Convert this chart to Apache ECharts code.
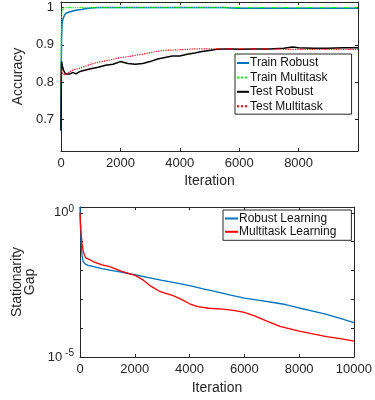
<!DOCTYPE html>
<html><head><meta charset="utf-8">
<script src="https://cdn.jsdelivr.net/npm/echarts@6/dist/echarts.min.js"></script>
<style>html,body{margin:0;padding:0;background:#fff}#c{width:375px;height:400px}</style>
</head><body><div id="c"></div>
<script>
// ---- Top chart: accuracy ----
const accX = [0,10,20,30,40,60,80,100,150,200,300,400,500,600,700,800,1000,1250,1500,1750,2000,2250,2500,2750,3000,3250,3500,3750,4000,4250,4500,4750,5000,5250,5500,5750,6000,6500,7000,7500,7800,8000,8500,9000,9500,10000];
const trainRobust = [0.67,0.85,0.92,0.945,0.96,0.968,0.972,0.976,0.984,0.987,0.989,0.991,0.993,0.994,0.995,0.997,0.999,1.0,1.0,1.0,1.0,1.0,1.0,1.0,1.0,1.0,1.0,1.0,1.0,1.0,1.0,1.0,1.0,1.0,1.0,0.999,0.998,0.998,0.998,0.998,0.998,0.998,0.998,0.998,0.998,0.998];
const trainMultitask = [0.78,0.93,0.975,0.99,0.995,0.998,0.999,1.0,1.0,1.0,1.0,1.0,1.0,1.0,1.0,1.0,1.0,1.0,1.0,1.0,1.0,1.0,1.0,1.0,1.0,1.0,1.0,1.0,1.0,1.0,1.0,1.0,1.0,1.0,1.0,1.0,1.0,1.0,1.0,1.0,1.0,1.0,1.0,1.0,1.0,1.0];
const testRobust = [0.67,0.80,0.855,0.852,0.845,0.84,0.833,0.828,0.822,0.818,0.822,0.826,0.822,0.827,0.83,0.832,0.836,0.84,0.845,0.848,0.855,0.85,0.848,0.85,0.855,0.862,0.866,0.87,0.87,0.875,0.878,0.882,0.885,0.888,0.889,0.889,0.888,0.889,0.889,0.891,0.894,0.892,0.891,0.891,0.892,0.892];
const testMultitask = [0.80,0.835,0.832,0.83,0.826,0.822,0.82,0.818,0.82,0.822,0.828,0.833,0.835,0.836,0.84,0.842,0.848,0.853,0.857,0.861,0.866,0.868,0.872,0.875,0.879,0.883,0.885,0.886,0.887,0.888,0.889,0.889,0.889,0.889,0.889,0.889,0.889,0.889,0.889,0.888,0.888,0.888,0.888,0.888,0.888,0.888];
const accTicks = [0.7,0.8,0.9,1];

// ---- Bottom chart: stationarity gap ----
const robX = [0,20,40,60,80,120,200,300,500,800,1083,1500,2000,2500,3000,3500,4000,4500,5000,5500,6000,6500,7000,7500,8000,8500,9000,9500,10000];
const robGap = [1.6,0.3,0.1,0.05,0.03,0.02,0.0165,0.015,0.0135,0.0115,0.0102,0.0087,0.0071,0.0056,0.0045,0.0037,0.003,0.0023,0.0018,0.0014,0.0011,0.00093,0.00079,0.00066,0.0005,0.00039,0.0003,0.00022,0.000155];
const mtX = [0,20,40,60,80,120,160,200,250,500,800,1083,1500,2000,2300,2600,2900,3400,3700,4000,4300,4700,5200,5600,6000,6400,6800,7300,8000,8500,9000,9500,10000];
const mtGap = [1.0,0.35,0.2,0.12,0.08,0.045,0.035,0.028,0.025,0.02,0.0155,0.0135,0.0095,0.0068,0.0047,0.0028,0.0019,0.00135,0.001,0.0007,0.00056,0.00049,0.00046,0.00041,0.00035,0.00026,0.00018,0.000115,0.000079,0.000063,0.000051,0.000043,0.0000355];

const topNames = ['Train Robust','Train Multitask','Test Robust','Test Multitask'];
const botNames = ['Robust Learning','Multitask Learning'];

const FONT = 'Liberation Sans, Arial, sans-serif';
const AX = '#262626';
const pair = (xs, ys) => xs.map((x, i) => [x, ys[i]]);
const plain = v => String(v);

const baseAxis = {
  axisLine: {show: true, onZero: false, lineStyle: {color: AX, width: 1}},
  axisTick: {show: true, inside: true, length: 3, lineStyle: {color: AX}},
  splitLine: {show: false},
  axisLabel: {color: AX, fontFamily: FONT, fontSize: 13}
};
function ax(extra) { return Object.assign({}, JSON.parse(JSON.stringify(baseAxis)), extra); }

const chart = echarts.init(document.getElementById('c'), null, {renderer: 'canvas'});
chart.setOption({
  animation: false,
  backgroundColor: '#fff',
  textStyle: {fontFamily: FONT},
  grid: [
    {left: 61, top: 2, width: 297, height: 149},
    {left: 80, top: 207, width: 278, height: 150}
  ],
  xAxis: [
    ax({type: 'value', gridIndex: 0, min: 0, max: 10000, interval: 2000, position: 'bottom',
        axisLabel: {color: AX, fontFamily: FONT, fontSize: 13, margin: 6, showMaxLabel: false, formatter: plain},
        name: 'Iteration', nameLocation: 'middle', nameGap: 23,
        nameTextStyle: {color: AX, fontFamily: FONT, fontSize: 14}}),
    ax({type: 'value', gridIndex: 0, min: 0, max: 10000, interval: 2000, position: 'top',
        axisLabel: {show: false}}),
    ax({type: 'value', gridIndex: 1, min: 0, max: 10000, interval: 2000, position: 'bottom',
        axisLabel: {color: AX, fontFamily: FONT, fontSize: 13, margin: 6, formatter: plain},
        name: 'Iteration', nameLocation: 'middle', nameGap: 24,
        nameTextStyle: {color: AX, fontFamily: FONT, fontSize: 14}}),
    ax({type: 'value', gridIndex: 1, min: 0, max: 10000, interval: 2000, position: 'top',
        axisLabel: {show: false}})
  ],
  yAxis: [
    ax({type: 'value', gridIndex: 0, min: 0.615, max: 1.015, position: 'left',
        axisTick: {show: true, inside: true, length: 3, lineStyle: {color: AX}, customValues: accTicks},
        axisLabel: {color: AX, fontFamily: FONT, fontSize: 13, margin: 7, customValues: accTicks,
          formatter: v => (Math.abs(v - 1) < 1e-9 ? '1' : v.toFixed(1))},
        name: 'Accuracy', nameLocation: 'middle', nameGap: 24, nameRotate: 90,
        nameTextStyle: {color: AX, fontFamily: FONT, fontSize: 14}}),
    ax({type: 'value', gridIndex: 0, min: 0.615, max: 1.015, position: 'right',
        axisTick: {show: true, inside: true, length: 3, lineStyle: {color: AX}, customValues: accTicks},
        axisLabel: {show: false}}),
    ax({type: 'log', logBase: 10, gridIndex: 1, min: 1e-5, max: Math.pow(10, 0.2), interval: 1, position: 'left',
        axisLabel: {color: AX, fontFamily: FONT, fontSize: 13, margin: 6,
          formatter: v => {
            const e = Math.round(Math.log10(v));
            if (Math.abs(Math.log10(v) - e) > 1e-6) return '';
            if (e === 0) return '{b|10}{s|0}';
            if (e === -5) return '{b|10}{s| -5}';
            return '';
          },
          rich: {b: {fontSize: 13, color: AX, fontFamily: FONT},
                 s: {fontSize: 10, color: AX, fontFamily: FONT, verticalAlign: 'top', padding: [0, 0, 8, 0]}}},
        name: 'Stationarity\nGap', nameLocation: 'middle', nameGap: 38, nameRotate: 90,
        nameTextStyle: {color: AX, fontFamily: FONT, fontSize: 14, lineHeight: 13}}),
    ax({type: 'log', logBase: 10, gridIndex: 1, min: 1e-5, max: Math.pow(10, 0.2), interval: 1, position: 'right',
        axisLabel: {show: false}})
  ],
  legend: [
    {data: topNames, orient: 'vertical', left: 235, top: 54, padding: [2, 24, 1, 1],
     itemWidth: 12, itemHeight: 2, itemGap: 0.4, borderColor: AX, borderWidth: 1, backgroundColor: '#fff',
     itemStyle: {opacity: 0},
     textStyle: {color: '#111', fontFamily: FONT, fontSize: 12, lineHeight: 14, padding: [0, 0, 0, -4]}},
    {data: botNames, orient: 'vertical', left: 223, top: 210, padding: [2, 15, 2, 1],
     itemWidth: 13, itemHeight: 2, itemGap: 0.3, borderColor: AX, borderWidth: 1, backgroundColor: '#fff',
     itemStyle: {opacity: 0},
     textStyle: {color: '#111', fontFamily: FONT, fontSize: 12, lineHeight: 13, padding: [0, 0, 0, -4]}}
  ],
  series: [
    {name: 'Train Robust', type: 'line', xAxisIndex: 0, yAxisIndex: 0, symbol: 'none', data: pair(accX, trainRobust),
     lineStyle: {color: '#0072BD', width: 1.5}, itemStyle: {color: '#0072BD'}},
    {name: 'Train Multitask', type: 'line', xAxisIndex: 0, yAxisIndex: 0, symbol: 'none', data: pair(accX, trainMultitask),
     lineStyle: {color: '#00FF00', width: 1.2, type: 'dotted'}, itemStyle: {color: '#00FF00'}},
    {name: 'Test Robust', type: 'line', xAxisIndex: 0, yAxisIndex: 0, symbol: 'none', data: pair(accX, testRobust),
     lineStyle: {color: '#000000', width: 1.5}, itemStyle: {color: '#000000'}},
    {name: 'Test Multitask', type: 'line', xAxisIndex: 0, yAxisIndex: 0, symbol: 'none', data: pair(accX, testMultitask),
     lineStyle: {color: '#FF0000', width: 1.2, type: 'dotted'}, itemStyle: {color: '#FF0000'}},
    {name: 'Robust Learning', type: 'line', xAxisIndex: 2, yAxisIndex: 2, symbol: 'none', data: pair(robX, robGap),
     lineStyle: {color: '#0072BD', width: 1.3}, itemStyle: {color: '#0072BD'}},
    {name: 'Multitask Learning', type: 'line', xAxisIndex: 2, yAxisIndex: 2, symbol: 'none', data: pair(mtX, mtGap),
     lineStyle: {color: '#FF0000', width: 1.3}, itemStyle: {color: '#FF0000'}}
  ]
});
</script>
</body></html>
